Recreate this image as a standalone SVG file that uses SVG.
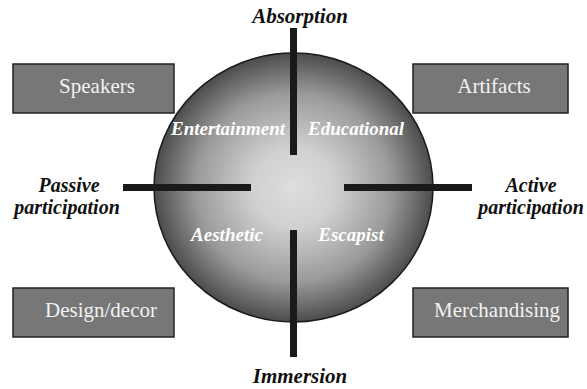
<svg xmlns="http://www.w3.org/2000/svg" width="587" height="389" viewBox="0 0 587 389">
<style>
.box{fill:#777777;stroke:#222222;stroke-width:1.5}
.bt{font-family:"Liberation Serif",serif;font-size:21px;fill:#f2f2f2;text-anchor:middle}
.ax{font-family:"Liberation Serif",serif;font-size:21px;font-weight:bold;font-style:italic;fill:#111111;text-anchor:middle}
.sd{font-size:20px}
.in{font-family:"Liberation Serif",serif;font-size:19px;font-weight:bold;font-style:italic;fill:#ffffff;text-anchor:middle}
.bar{stroke:#1a1a1a;stroke-width:7;fill:none}
</style>
<defs>
<radialGradient id="g" cx="0.5" cy="0.5" r="0.5">
<stop offset="0" stop-color="#dedede"/>
<stop offset="0.3" stop-color="#d0d0d0"/>
<stop offset="0.7" stop-color="#9a9a9a"/>
<stop offset="1" stop-color="#4c4c4c"/>
</radialGradient>
</defs>
<g id="sphere">
<ellipse cx="293.5" cy="187.5" rx="139.5" ry="134.5" fill="url(#g)" stroke="#1a1a1a" stroke-width="1.5"/>
<text class="in" x="228" y="135">Entertainment</text>
<text class="in" x="356" y="135">Educational</text>
<text class="in" x="227" y="241">Aesthetic</text>
<text class="in" x="351" y="241">Escapist</text>
</g>
<g id="connectors">
<line class="bar" x1="293.5" y1="28" x2="293.5" y2="155"/>
<line class="bar" x1="293.5" y1="230" x2="293.5" y2="357"/>
<line class="bar" x1="123" y1="187.5" x2="251" y2="187.5"/>
<line class="bar" x1="344" y1="187.5" x2="472" y2="187.5"/>
</g>
<g id="absorption"><text class="ax" x="300" y="23">Absorption</text></g>
<g id="immersion"><text class="ax" x="300" y="383">Immersion</text></g>
<g id="passive"><text class="ax sd" x="69" y="192">Passive</text><text class="ax sd" x="67" y="214">participation</text></g>
<g id="active"><text class="ax sd" x="531" y="192">Active</text><text class="ax sd" x="531" y="214">participation</text></g>
<g id="speakers"><rect class="box" x="13" y="64" width="161" height="49"/><text class="bt" x="97" y="93">Speakers</text></g>
<g id="artifacts"><rect class="box" x="413" y="64" width="155" height="49"/><text class="bt" x="494" y="93">Artifacts</text></g>
<g id="design"><rect class="box" x="13" y="288" width="161" height="49"/><text class="bt" x="101" y="317">Design/decor</text></g>
<g id="merch"><rect class="box" x="413" y="288" width="155" height="49"/><text class="bt" x="497" y="317">Merchandising</text></g>
</svg>
